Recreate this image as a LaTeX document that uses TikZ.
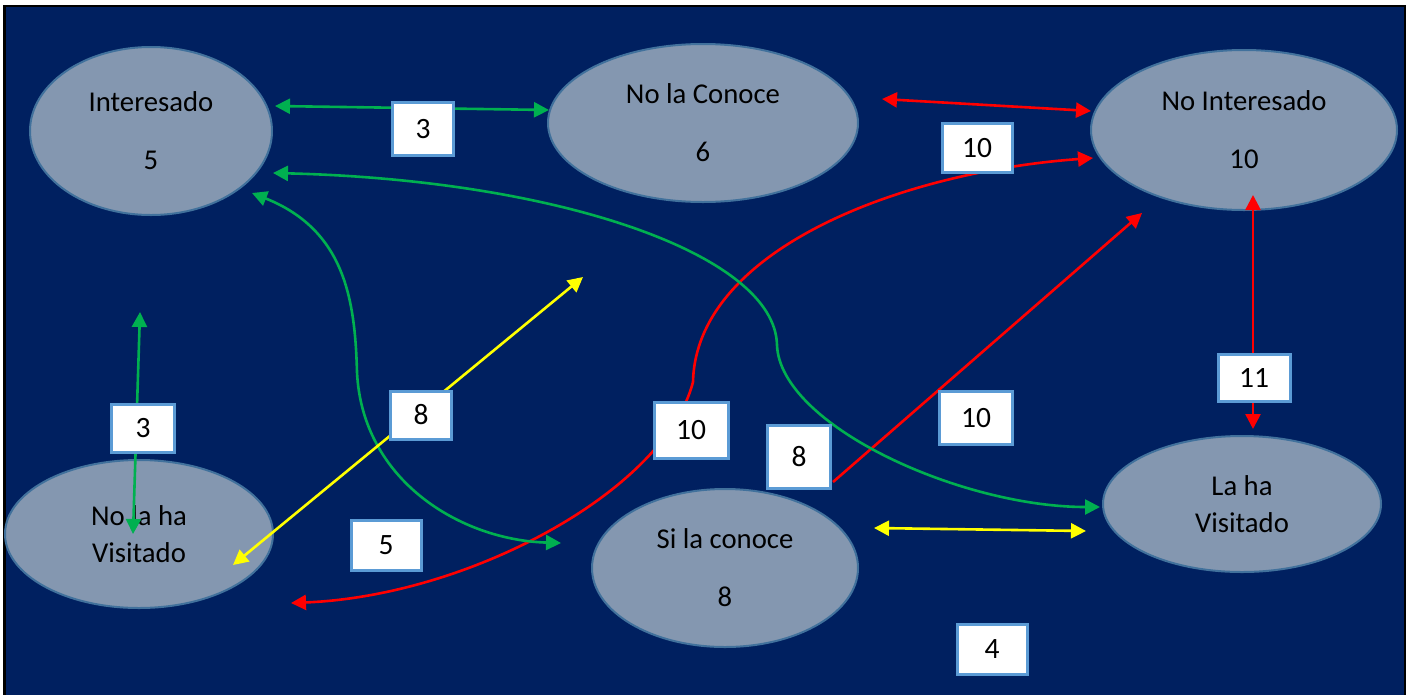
\documentclass[tikz,border=0pt]{standalone}
\usepackage{fontspec}
\setmainfont{Carlito}
\usetikzlibrary{shapes.geometric,arrows.meta}
\definecolor{navy}{HTML}{002060}
\definecolor{ellfill}{HTML}{8497B0}
\definecolor{ellline}{HTML}{41719C}
\definecolor{boxline}{HTML}{5B9BD5}
\definecolor{grn}{HTML}{00B050}
\definecolor{rd}{HTML}{FF0000}
\definecolor{yl}{HTML}{FFFF00}
\tikzset{
  state/.style={ellipse, fill=ellfill, draw=ellline, line width=2pt, inner sep=0pt, align=center,
    font=\fontsize{28.7}{36}\selectfont},
  lbl/.style={rectangle, fill=white, draw=boxline, line width=3pt, inner sep=0pt,
    font=\fontsize{29.5}{34}\selectfont},
  conn/.style={line width=2.6pt, {Triangle[length=15pt,width=15pt]}-{Triangle[length=15pt,width=15pt]}},
  oneway/.style={line width=2.6pt, -{Triangle[length=15pt,width=15pt]}}
}
\begin{document}
\begin{tikzpicture}[x=1pt,y=-1pt]
\useasboundingbox (0,0) rectangle (1411,694);
\fill[white] (0,0) rectangle (1411,694);
\draw[fill=navy, draw=black, line width=2.5pt] (4.5,6) rectangle (1405,704);

% states
\node[state, minimum width=242pt, minimum height=168pt] (int) at (151,131) {Interesado\\[22pt]5};
\node[state, minimum width=310pt, minimum height=158pt] (nlc) at (703,123) {No la Conoce\\[22pt]6};
\node[state, minimum width=306pt, minimum height=160pt] (nint) at (1244,130) {No Interesado\\[22pt]10};
\node[state, minimum width=268pt, minimum height=148pt] (nlv) at (139,534) {No la ha\\[1pt]Visitado};
\node[state, minimum width=266pt, minimum height=158pt] (slc) at (725,568) {Si la conoce\\[22pt]8};
\node[state, minimum width=278pt, minimum height=136pt] (lhv) at (1242,504) {La ha\\[1pt]Visitado};

% free ends
\coordinate (g1a) at (275,106);  \coordinate (g1b) at (549,110);
\coordinate (r1a) at (882,99);   \coordinate (r1b) at (1091,111);
\coordinate (r2a) at (291,603);  \coordinate (r2m) at (693,382); \coordinate (r2b) at (1093,158);
\coordinate (r3a) at (833,482);  \coordinate (r3b) at (1142,213);
\coordinate (r4a) at (1253,195); \coordinate (r4b) at (1253,429);
\coordinate (g2a) at (273,173);  \coordinate (g2m) at (777,345); \coordinate (g2b) at (1100,507);
\coordinate (g3a) at (252,193);  \coordinate (g3m) at (357,372); \coordinate (g3b) at (561,543);
\coordinate (g4a) at (140,312);  \coordinate (g4b) at (133,534);
\coordinate (y1a) at (233,565);  \coordinate (y1b) at (583,277);
\coordinate (y2a) at (874,528);  \coordinate (y2b) at (1086,531);

% connectors
\draw[conn, grn] (g1a) -- (g1b);
\draw[conn, rd] (r1a) -- (r1b);
\draw[conn, rd] (r2a) .. controls (470,596) and (665,490) .. (r2m) .. controls (696,250) and (900,172) .. (r2b);
\draw[oneway, rd] (r3a) -- (r3b);
\draw[conn, rd] (r4a) -- (r4b);
\draw[conn, grn] (g2a) .. controls (560,180) and (775,255) .. (g2m) .. controls (780,425) and (960,507) .. (g2b);
\draw[conn, grn] (g3a) .. controls (345,230) and (355,300) .. (g3m) .. controls (362,480) and (460,540) .. (g3b);
\draw[conn, grn] (g4a) -- (g4b);
\draw[conn, yl] (y1a) -- (y1b);
\draw[conn, yl] (y2a) -- (y2b);

% labels
\node[lbl, minimum width=61pt, minimum height=53pt] (b3a) at (423,129) {3};
\node[lbl, minimum width=70pt, minimum height=49pt] (b10a) at (977,148) {10};
\node[lbl, minimum width=63pt, minimum height=48pt] (b3b) at (143,428) {3};
\node[lbl, minimum width=61pt, minimum height=48pt] (b8a) at (421,415) {8};
\node[lbl, minimum width=70pt, minimum height=50pt] (b5) at (386,545) {5};
\node[lbl, minimum width=74pt, minimum height=56pt] (b10b) at (691,430) {10};
\node[lbl, minimum width=63pt, minimum height=63pt] (b8b) at (799,457) {8};
\node[lbl, minimum width=73pt, minimum height=53pt] (b10c) at (976,418) {10};
\node[lbl, minimum width=70pt, minimum height=50pt] (b4) at (992,649) {4};
\node[lbl, minimum width=72pt, minimum height=47pt] (b11) at (1254,378) {11};
\end{tikzpicture}
\end{document}
